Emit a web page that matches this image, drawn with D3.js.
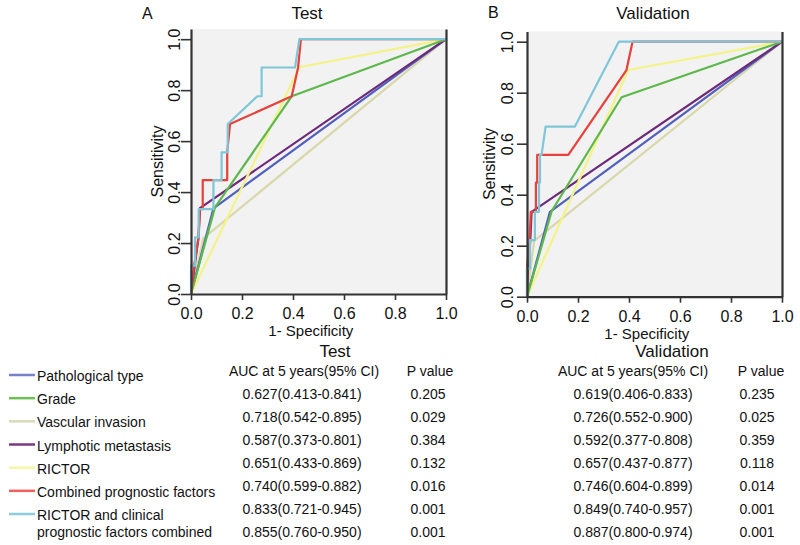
<!DOCTYPE html>
<html>
<head>
<meta charset="utf-8">
<script src="https://cdn.jsdelivr.net/npm/d3@7"></script>
<style>
  body { margin: 0; background: #fff; }
  svg { font-family: Arial, "Liberation Sans", sans-serif; }
</style>
</head>
<body>
<svg width="800" height="545"></svg>
<script>
// series, in legend order
const seriesNames = [
  "Pathological type",
  "Grade",
  "Vascular invasion",
  "Lymphotic metastasis",
  "RICTOR",
  "Combined prognostic factors",
  "RICTOR and clinical\nprognostic factors combined"
];

// ROC points [1-specificity, sensitivity]
const rocTest = [
  [[0, 0], [0.088, 0.336], [1, 1]],
  [[0, 0], [0.094, 0.34], [0.395, 0.776], [1, 1]],
  [[0, 0], [0.048, 0.218], [1, 1]],
  [[0, 0], [0.029, 0.22], [0.035, 0.337], [1, 1]],
  [[0, 0], [0.425, 0.89], [1, 1]],
  [[0, 0], [0.012, 0.111], [0.03, 0.222], [0.035, 0.333], [0.046, 0.333], [0.046, 0.447],
   [0.142, 0.447], [0.142, 0.556], [0.153, 0.667], [0.395, 0.776], [0.42, 0.889], [0.431, 1], [1, 1]],
  [[0, 0], [0, 0.111], [0.016, 0.111], [0.016, 0.222], [0.03, 0.222], [0.03, 0.333],
   [0.088, 0.333], [0.088, 0.447], [0.12, 0.447], [0.12, 0.556], [0.144, 0.556], [0.144, 0.667],
   [0.26, 0.776], [0.277, 0.776], [0.277, 0.889], [0.408, 0.889], [0.425, 1], [1, 1]]
];

const rocValid = [
  [[0, 0], [0.09, 0.333], [1, 1]],
  [[0, 0], [0.097, 0.336], [0.371, 0.782], [1, 1]],
  [[0, 0], [0.028, 0.219], [1, 1]],
  [[0, 0], [0.004, 0.111], [0.013, 0.222], [0.018, 0.333], [1, 1]],
  [[0, 0], [0.397, 0.889], [1, 1]],
  [[0, 0], [0, 0.111], [0.01, 0.222], [0.015, 0.333], [0.035, 0.333], [0.035, 0.447],
   [0.04, 0.447], [0.04, 0.556], [0.162, 0.556], [0.39, 0.889], [0.414, 1], [1, 1]],
  [[0, 0], [0, 0.111], [0.012, 0.111], [0.012, 0.222], [0.031, 0.222], [0.031, 0.333],
   [0.047, 0.333], [0.047, 0.447], [0.051, 0.447], [0.051, 0.556], [0.057, 0.556],
   [0.073, 0.667], [0.188, 0.667], [0.36, 1], [1, 1]]
];

const axisTicks = [0, 0.2, 0.4, 0.6, 0.8, 1.0];

// table values
const aucTest = ["0.627(0.413-0.841)", "0.718(0.542-0.895)", "0.587(0.373-0.801)", "0.651(0.433-0.869)",
                 "0.740(0.599-0.882)", "0.833(0.721-0.945)", "0.855(0.760-0.950)"];
const pTest = ["0.205", "0.029", "0.384", "0.132", "0.016", "0.001", "0.001"];
const aucValid = ["0.619(0.406-0.833)", "0.726(0.552-0.900)", "0.592(0.377-0.808)", "0.657(0.437-0.877)",
                  "0.746(0.604-0.899)", "0.849(0.740-0.957)", "0.887(0.800-0.974)"];
const pValid = ["0.235", "0.025", "0.359", "0.118", "0.014", "0.001", "0.001"];

// styles
const lineColors = ["#5160bd", "#5db84b", "#d8d8ab", "#6e2a7a", "#f3f386", "#e8403b", "#7fc6d8"];
const swatchColors = ["#7a80cc", "#6cc055", "#dadabb", "#7a3a82", "#f6f6a6", "#f06060", "#8ccde0"];
const drawOrder = [2, 0, 3, 4, 1, 5, 6];

const svg = d3.select("svg");
const ink = "#111";
const axisInk = "#333";

const panels = [
  { title: "Test", letter: "A", roc: rocTest, xr: [191, 446], yr: [294, 29],
    titleX: 307, letterX: 142, letterY: 19, yLab: -11, yName: -28 },
  { title: "Validation", letter: "B", roc: rocValid, xr: [527, 782], yr: [296.7, 31.5],
    titleX: 653, letterX: 488, letterY: 18, yLab: -14, yName: -32 }
];

panels.forEach(function (p) {
  const x = d3.scaleLinear().domain([0, 1]).range(p.xr);
  const y = d3.scaleLinear().domain([0, 1.04]).range(p.yr);

  // plot background
  svg.append("rect")
    .attr("x", x(0)).attr("y", y(1.04))
    .attr("width", x(1) - x(0)).attr("height", y(0) - y(1.04))
    .attr("fill", "#f2f2f2");

  const line = d3.line().x(d => x(d[0])).y(d => y(d[1]));

  drawOrder.forEach(function (i) {
    svg.append("path")
      .datum(p.roc[i])
      .attr("d", line)
      .attr("fill", "none")
      .attr("stroke", lineColors[i])
      .attr("stroke-width", 2.2)
      .attr("stroke-linejoin", "round");
  });

  // axes
  const xAxis = svg.append("g")
    .attr("transform", "translate(0," + y(0) + ")")
    .call(d3.axisBottom(x).tickValues(axisTicks).tickFormat(d3.format(".1f"))
      .tickSize(6).tickPadding(8).tickSizeOuter(0));

  const yAxis = svg.append("g")
    .attr("transform", "translate(" + x(0) + ",0)")
    .call(d3.axisLeft(y).tickValues(axisTicks).tickFormat(d3.format(".1f"))
      .tickSize(10).tickSizeOuter(0));

  yAxis.selectAll(".tick text")
    .attr("transform", "rotate(-90)")
    .attr("x", 0)
    .attr("y", p.yLab)
    .attr("dy", 0)
    .style("text-anchor", "middle")
    .style("font-size", "16px");

  const rAxis = svg.append("g")
    .attr("transform", "translate(" + x(1) + ",0)")
    .call(d3.axisRight(y).tickValues([]).tickSizeOuter(0));

  [xAxis, yAxis, rAxis].forEach(function (g) {
    g.select(".domain").attr("stroke", axisInk).attr("stroke-width", 2.2);
    g.selectAll(".tick line").attr("stroke", axisInk).attr("stroke-width", 1.6);
    g.selectAll(".tick text").attr("fill", ink).style("font-family", "Arial, 'Liberation Sans', sans-serif");
  });
  xAxis.selectAll(".tick text").style("font-size", "16px");

  // titles and axis names
  svg.append("text")
    .attr("x", p.titleX).attr("y", 19)
    .attr("text-anchor", "middle")
    .style("font-size", "17px").attr("fill", ink)
    .text(p.title);

  svg.append("text")
    .attr("x", p.letterX).attr("y", p.letterY)
    .style("font-size", "16px").attr("fill", ink)
    .text(p.letter);

  svg.append("text")
    .attr("x", x(0.47)).attr("y", y(0) + 42)
    .attr("text-anchor", "middle")
    .style("font-size", "15px").attr("fill", ink)
    .text("1- Specificity");

  svg.append("text")
    .attr("transform", "translate(" + (x(0) + p.yName) + "," + y(0.52) + ") rotate(-90)")
    .attr("text-anchor", "middle")
    .style("font-size", "16px").attr("fill", ink)
    .text("Sensitivity");
});

// legend
const legendY = d3.scaleLinear().domain([0, 6]).range([381, 520]);
seriesNames.forEach(function (name, i) {
  const yy = legendY(i);
  svg.append("line")
    .attr("x1", 9).attr("x2", 35)
    .attr("y1", yy - 6).attr("y2", yy - 6)
    .attr("stroke", swatchColors[i]).attr("stroke-width", 2.5);
  name.split("\n").forEach(function (part, k) {
    svg.append("text")
      .attr("x", 37).attr("y", yy + k * 17)
      .style("font-size", "14px").attr("fill", ink)
      .text(part);
  });
});

// table
const rowY = d3.scaleLinear().domain([0, 6]).range([399, 536.5]);

function header(xc, yy, txt, size) {
  svg.append("text")
    .attr("x", xc).attr("y", yy)
    .attr("text-anchor", "middle")
    .style("font-size", size + "px").attr("fill", ink)
    .text(txt);
}

header(335, 357, "Test", 17);
header(672, 357, "Validation", 17);
header(304, 376, "AUC at 5 years(95% CI)", 14);
header(430, 376, "P value", 14);
header(633, 376, "AUC at 5 years(95% CI)", 14);
header(761, 376, "P value", 14);

function column(values, xc) {
  svg.append("g").selectAll("text")
    .data(values)
    .join("text")
    .attr("x", xc)
    .attr("y", (d, i) => rowY(i))
    .attr("text-anchor", "middle")
    .style("font-size", "14px").attr("fill", ink)
    .text(d => d);
}

column(aucTest, 302);
column(pTest, 428);
column(aucValid, 633);
column(pValid, 757);
</script>
</body>
</html>
